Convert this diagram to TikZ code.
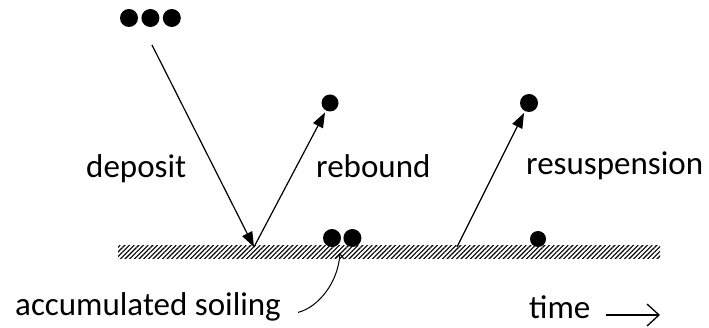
\documentclass[tikz,border=0pt]{standalone}
\usepackage{fontspec}
\setmainfont{Carlito}
\usetikzlibrary{arrows.meta,patterns.meta,positioning}

\begin{document}
\begin{tikzpicture}[
        x=1pt, y=-1pt,
        particle/.style={circle, fill=black, inner sep=0pt, minimum size=18pt},
        lbl/.style={font=\fontsize{33}{36}\selectfont, inner sep=0pt, anchor=base west},
        trajectory/.style={-{Triangle[length=15pt,width=11pt]}, line width=1.2pt},
        pointer/.style={-{Straight Barb[length=5pt,width=9pt]}, line width=1pt},
        timearrow/.style={-{Straight Barb[length=12pt,width=22pt,line width=1.3pt]}, line width=1.3pt}
    ]
        \useasboundingbox (0,0) rectangle (709,328);

        % ground
        \fill[pattern={Lines[angle=45,distance=3.3pt,line width=1.1pt]}] (118,246) rectangle (660,259);

        % incoming particles
        \node[particle] (in1) at (129,18) {};
        \node[particle, right=3pt of in1] (in2) {};
        \node[particle, right=3pt of in2] (in3) {};

        \coordinate (depstart) at (152,45);
        \coordinate (hit) at (254,247);
        \coordinate (lift) at (457,247);
        \coordinate (soil) at (340,253);
        \coordinate (timeend) at (660,315);

        % particles after
        \node[particle, minimum size=17pt] (reb) at (330,103) {};
        \node[particle] (res) at (529,103) {};
        \node[particle] (s1) at (332,238) {};
        \node[particle, right=2pt of s1] (s2) {};
        \node[particle, minimum size=16pt] (s3) at (538,239) {};

        \draw[trajectory] (depstart) -- (hit);
        \draw[trajectory, shorten >=2pt] (hit) -- (reb);
        \draw[trajectory, shorten >=2pt] (lift) -- (res);

        % labels
        \node[lbl] (dep) at (86,178) {deposit};
        \node[lbl] (rebt) at (316,178) {rebound};
        \node[lbl] (rest) at (526,175) {resuspension};
        \node[lbl] (acc) at (15,316) {accumulated soiling};
        \node[lbl] (time) at (529,319) {time};

        \draw[pointer] ([xshift=17pt,yshift=-5pt]acc.east) .. controls +(20,-5) and +(-2,30) .. (soil);
        \draw[timearrow, shorten <=15pt] (time.east |- timeend) -- (timeend);
    \end{tikzpicture}
\end{document}
